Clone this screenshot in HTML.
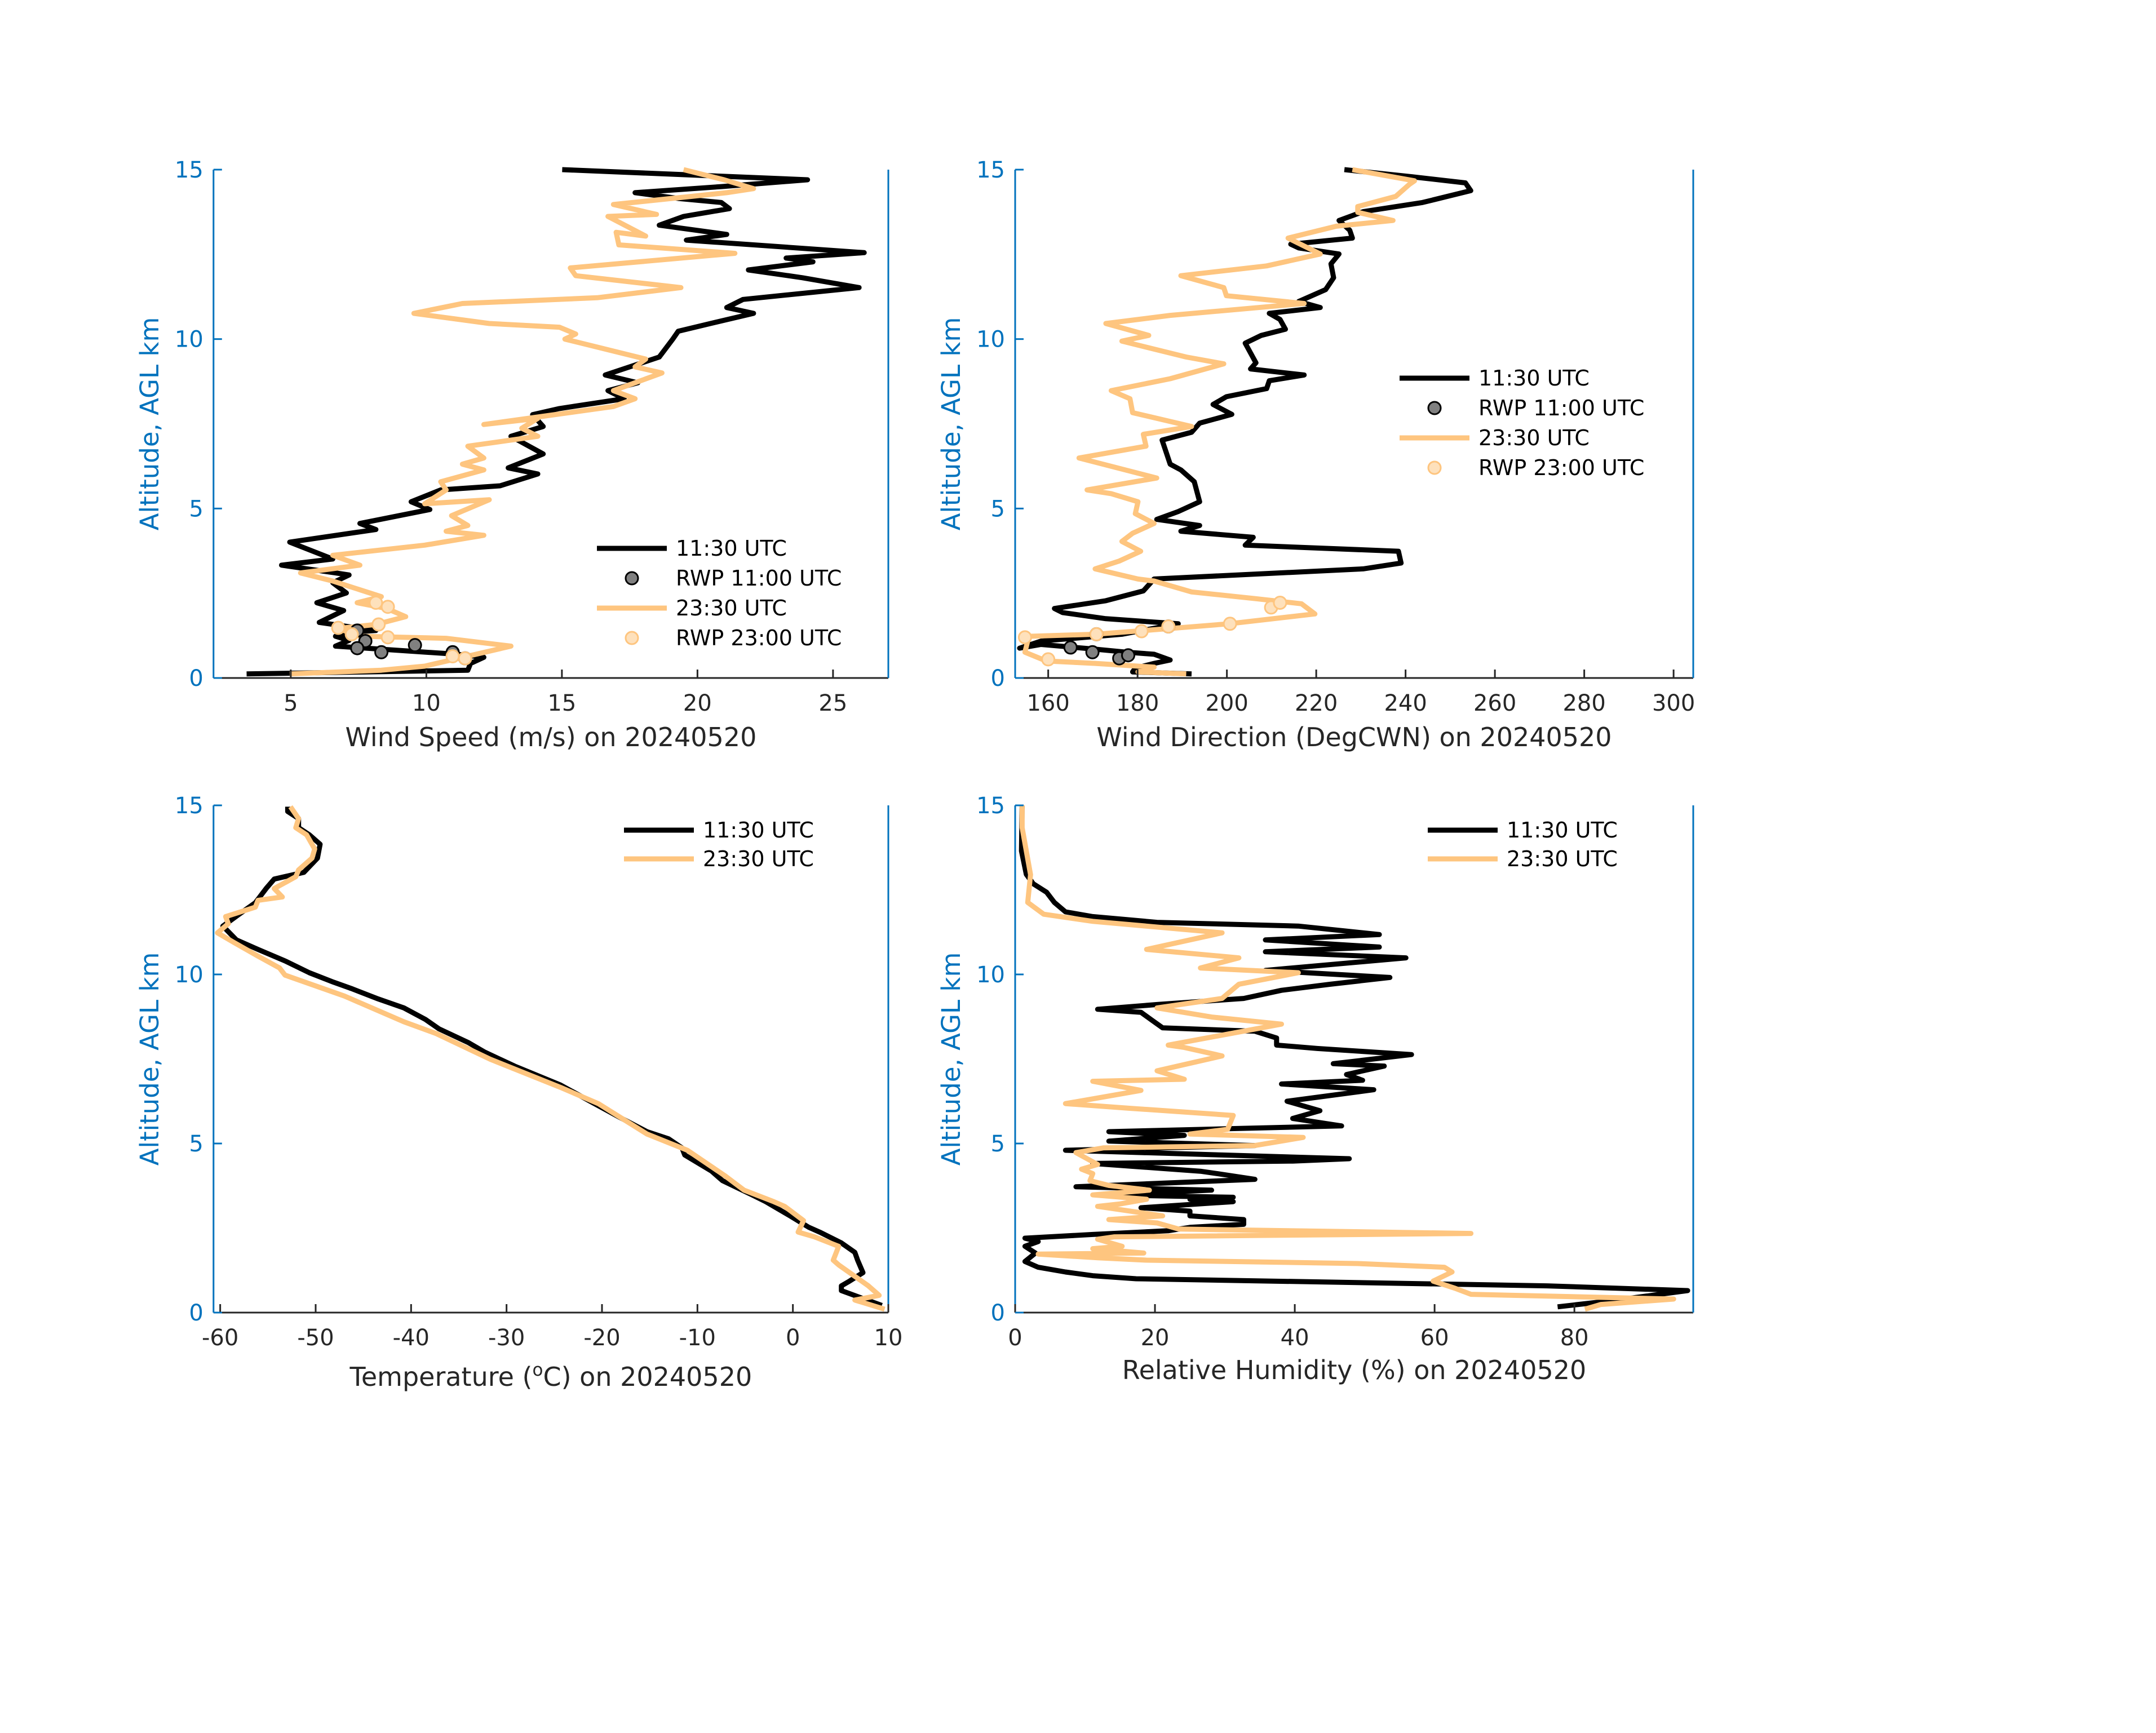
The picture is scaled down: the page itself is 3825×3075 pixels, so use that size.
<!DOCTYPE html>
<html><head><meta charset="utf-8"><style>
html,body{margin:0;padding:0;background:#fff;}
svg{display:block;font-family:"DejaVu Sans","Liberation Sans",sans-serif;}
</style></head><body>
<svg id="fig" xmlns="http://www.w3.org/2000/svg" width="3825" height="3075" viewBox="0 0 3825 3075">
<rect width="3825" height="3075" fill="#fff"/>
</svg>
<script>
// ---- data (value, altitude km) ----
const wsBlkVal=[3.37,11.53,11.63,12.12,11.13,6.65,7.15,6.65,7.55,8.14,6.05,6.95,5.96,7.05,6.55,7.15,6.65,4.66,6.55,4.96,8.14,7.55,10.13,9.44,10.53,12.72,14.11,13.02,14.31,13.12,14.31,13.92,14.91,17.30,16.70,17.80,16.60,18.59,19.09,19.29,20.48,22.07,21.08,21.68,25.96,23.87,21.88,24.26,23.27,26.15,19.59,21.08,18.59,19.49,21.18,20.88,19.29,17.70,20.88,24.06,15.01];
const wsBlkAlt=[0.12,0.23,0.43,0.61,0.70,0.94,1.11,1.23,1.37,1.40,1.64,1.99,2.22,2.51,2.81,3.04,3.10,3.33,3.51,4.01,4.38,4.56,4.97,5.20,5.55,5.67,6.02,6.20,6.61,7.13,7.42,7.77,7.95,8.24,8.48,8.71,8.94,9.47,10.00,10.23,10.46,10.76,10.93,11.17,11.52,11.81,12.04,12.28,12.39,12.55,12.92,13.09,13.36,13.62,13.85,14.03,14.15,14.32,14.50,14.70,15.00];
const wsOrgVal=[4.96,8.34,9.94,13.12,10.73,7.55,6.75,8.14,9.24,8.54,7.45,8.34,6.55,5.36,7.55,6.55,9.94,12.12,10.73,11.53,10.93,12.32,9.94,10.73,10.53,12.12,11.33,12.12,11.53,14.11,13.52,14.11,12.12,16.90,17.70,16.90,18.69,17.70,18.09,15.11,15.51,14.91,12.32,9.54,11.33,16.30,19.39,15.51,15.31,21.38,17.10,17.00,18.09,16.70,18.49,16.90,21.08,22.07,20.98,19.49];
const wsOrgAlt=[0.12,0.23,0.35,0.94,1.17,1.23,1.46,1.58,1.81,2.05,2.22,2.40,2.86,3.10,3.33,3.62,3.92,4.21,4.33,4.50,4.79,5.26,5.14,5.55,5.79,6.14,6.31,6.49,6.84,7.13,7.37,7.66,7.48,8.01,8.24,8.48,9.00,9.18,9.41,10.00,10.15,10.35,10.46,10.76,11.05,11.22,11.52,11.87,12.10,12.53,12.78,13.15,13.04,13.62,13.68,13.97,14.32,14.44,14.70,15.00];
const wsRwp11Val=[7.45,7.75,7.45,8.34,9.58,10.97,11.43];
const wsRwp11Alt=[1.40,1.09,0.88,0.76,0.97,0.76,0.58];
const wsRwp23Val=[6.75,7.25,8.14,8.58,8.24,8.58,11.43,10.97];
const wsRwp23Alt=[1.48,1.29,2.22,2.10,1.58,1.20,0.58,0.64];

const wdBlkVal=[192.1,178.9,179.5,183.7,187.3,183.7,177.7,170.5,158.4,153.6,158.4,176.5,189.1,172.9,163.2,161.4,172.9,181.3,183.7,230.5,239.0,238.4,204.1,205.9,189.7,193.9,184.3,189.1,193.9,192.7,189.7,187.3,185.5,192.1,193.9,201.1,196.9,199.9,208.9,209.5,217.3,205.3,206.5,204.1,207.7,213.1,211.9,209.5,220.9,216.1,222.1,223.9,223.3,225.1,216.1,214.3,228.1,227.5,225.1,230.5,243.8,254.6,253.4,241.4,226.3];
const wdBlkAlt=[0.12,0.18,0.29,0.43,0.53,0.70,0.76,0.85,0.99,0.88,1.09,1.29,1.60,1.75,1.93,2.05,2.28,2.57,2.92,3.22,3.39,3.74,3.92,4.15,4.33,4.50,4.68,4.91,5.20,5.79,6.14,6.31,7.02,7.25,7.52,7.78,8.07,8.30,8.54,8.77,8.94,9.12,9.30,9.88,10.11,10.29,10.58,10.76,10.93,11.11,11.46,11.81,12.22,12.51,12.69,12.80,12.98,13.21,13.50,13.76,14.03,14.38,14.61,14.79,15.00];
const wdOrgVal=[190.9,180.1,183.7,170.5,159.6,154.8,155.4,156.0,170.5,187.3,200.5,219.7,216.7,206.5,192.1,183.7,180.1,170.5,175.9,180.7,176.5,178.9,183.7,179.5,180.1,174.1,168.7,184.3,166.9,181.9,181.3,192.1,178.9,178.3,174.1,187.3,199.3,190.9,176.5,182.5,172.9,187.3,217.3,199.9,199.3,189.7,208.9,220.9,213.7,224.5,237.2,229.3,229.3,237.8,240.8,242.0,228.1];
const wdOrgAlt=[0.12,0.18,0.32,0.43,0.50,0.76,1.09,1.23,1.29,1.46,1.60,1.89,2.19,2.34,2.54,2.86,2.92,3.22,3.45,3.74,4.03,4.27,4.56,4.85,5.20,5.44,5.55,5.90,6.49,6.84,7.19,7.42,7.83,8.24,8.48,8.83,9.27,9.47,9.94,10.11,10.46,10.70,11.05,11.28,11.52,11.87,12.16,12.51,12.98,13.33,13.50,13.74,13.91,14.21,14.56,14.67,15.00];
const wdRwp11Val=[165.0,169.9,175.9,177.9,186.9,170.8];
const wdRwp11Alt=[0.90,0.76,0.58,0.67,1.52,1.29];
const wdRwp23Val=[154.8,170.8,180.9,186.9,200.7,209.9,211.9,160.0];
const wdRwp23Alt=[1.20,1.29,1.38,1.52,1.60,2.08,2.22,0.55];

const tBlkVal=[9.32,5.08,5.08,5.93,7.34,6.78,6.49,5.08,2.81,1.68,-0.30,-2.84,-4.26,-7.37,-8.50,-11.33,-11.62,-13.03,-15.29,-18.12,-21.24,-24.35,-29.16,-32.27,-33.97,-37.08,-38.50,-40.76,-43.59,-46.14,-48.12,-50.66,-53.21,-56.04,-58.30,-59.72,-58.02,-56.32,-55.19,-54.34,-51.23,-49.81,-49.53,-50.66,-51.79,-51.79,-52.93,-52.93];
const tBlkAlt=[0.21,0.65,0.79,0.93,1.18,1.55,1.78,2.06,2.38,2.52,2.86,3.28,3.48,3.90,4.18,4.66,4.87,5.14,5.35,5.77,6.25,6.73,7.29,7.70,7.98,8.39,8.67,9.01,9.29,9.57,9.77,10.05,10.40,10.74,11.02,11.43,11.78,12.12,12.54,12.82,13.02,13.44,13.85,14.13,14.34,14.61,14.82,14.96];
const tOrgVal=[9.61,6.49,9.04,7.91,4.80,4.23,4.80,2.25,0.55,1.12,-0.86,-2.00,-5.11,-7.09,-11.05,-15.29,-20.39,-24.35,-31.70,-37.36,-40.76,-46.98,-53.21,-53.78,-56.04,-58.59,-60.28,-59.15,-59.43,-56.32,-56.04,-53.49,-54.34,-52.08,-51.79,-50.38,-50.10,-50.95,-52.08,-51.79,-52.64];
const tOrgAlt=[0.10,0.37,0.51,0.79,1.41,1.55,1.96,2.24,2.38,2.72,3.14,3.28,3.62,4.04,4.80,5.28,6.18,6.66,7.49,8.25,8.60,9.36,9.98,10.19,10.54,10.95,11.23,11.50,11.71,11.99,12.19,12.29,12.54,12.89,13.09,13.44,13.71,14.13,14.34,14.61,14.96];

const rhBlkVal=[77.6,85.3,96.2,76.1,17.3,11.1,7.2,3.3,1.4,2.9,1.4,3.3,1.4,11.1,21.9,25.0,32.7,32.7,25.0,25.0,18.0,31.2,25.0,31.2,12.6,28.1,8.7,34.3,28.9,26.5,11.1,39.7,47.8,29.6,7.2,34.3,13.4,24.2,13.4,46.7,39.7,43.6,38.9,51.3,38.1,49.7,47.4,52.8,45.5,56.7,43.2,37.4,37.4,34.3,21.1,19.6,18.0,11.8,20.3,32.7,38.1,45.1,53.6,35.8,55.9,35.8,52.1,35.8,52.1,40.5,20.3,11.1,7.2,5.6,4.5,2.6,1.6,0.9,1.0];
const rhBlkAlt=[0.17,0.35,0.65,0.79,1.00,1.09,1.20,1.34,1.51,1.76,1.96,2.10,2.20,2.31,2.42,2.52,2.61,2.75,2.86,3.00,3.10,3.28,3.35,3.41,3.48,3.62,3.72,3.94,4.11,4.18,4.41,4.48,4.55,4.66,4.80,4.94,5.07,5.24,5.35,5.52,5.74,5.97,6.25,6.59,6.76,6.87,7.04,7.29,7.36,7.63,7.81,7.91,8.12,8.32,8.42,8.64,8.88,8.97,9.11,9.29,9.53,9.71,9.91,10.12,10.49,10.67,10.81,11.02,11.18,11.43,11.54,11.71,11.85,12.13,12.43,12.68,12.96,13.65,15.00];
const rhOrgVal=[81.5,83.8,94.2,65.2,62.9,59.8,62.5,61.4,49.0,18.8,11.8,3.3,18.4,11.1,15.3,11.8,14.2,65.2,23.4,20.3,13.4,21.1,11.8,14.9,18.8,11.1,19.2,13.4,10.7,11.1,9.5,11.8,8.7,12.6,34.3,41.2,25.0,30.4,31.2,16.5,7.2,18.0,11.1,24.2,20.3,29.6,24.2,21.9,38.1,28.1,20.3,29.6,32.0,40.5,26.5,32.0,18.8,29.6,11.1,4.1,1.8,2.2,1.0,1.0];
const rhOrgAlt=[0.10,0.24,0.40,0.54,0.72,0.93,1.20,1.34,1.45,1.55,1.62,1.73,1.76,1.89,1.96,2.17,2.24,2.34,2.47,2.65,2.75,2.86,3.14,3.21,3.35,3.48,3.62,3.76,3.90,4.11,4.24,4.38,4.73,4.87,4.94,5.18,5.28,5.42,5.83,6.04,6.18,6.57,6.84,6.90,7.15,7.59,7.84,7.91,8.53,8.74,9.01,9.29,9.71,10.05,10.19,10.49,10.74,11.23,11.57,11.78,12.13,12.95,14.34,15.00];

const wsTicks=[5,10,15,20,25];
const wdTicks=[160,180,200,220,240,260,280,300];
const tTicks=[-60,-50,-40,-30,-20,-10,0,10];
const rhTicks=[0,20,40,60,80];
const altTicks=[0,5,10,15];

const NS="http://www.w3.org/2000/svg";
const svg=document.getElementById('fig');
const BLK="#000", ORG="#FEC57F", BLUE="#0072BD", AX="#262626";
function el(tag,attrs,parent){const e=document.createElementNS(NS,tag);for(const k in attrs)e.setAttribute(k,attrs[k]);(parent||svg).appendChild(e);return e;}

function panel(id,box,xlim,xticks,xlabel,series,legend){
  const g=el('g',{});
  
  
  const sx=v=>box.x0+(v-xlim[0])/(xlim[1]-xlim[0])*(box.x1-box.x0);
  const sy=a=>box.y1-(a/15)*(box.y1-box.y0);
  const cp=el('clipPath',{id:'cp-'+id},g);
  el('rect',{x:box.x0,y:box.y0-6,width:box.x1-box.x0,height:box.y1-box.y0+12},cp);
  const sg=el('g',{'clip-path':'url(#cp-'+id+')'},g);
  series.forEach(s=>{
    if(s.type==='line'){
      const d=s.v.map((v,i)=>(i?'L':'M')+sx(v).toFixed(1)+' '+sy(s.a[i]).toFixed(1)).join(' ');
      const p=el('path',{d:d,fill:'none',stroke:s.c,'stroke-width':9,'stroke-linejoin':'round','stroke-linecap':'butt'},sg);
      
      
    } else {
      s.v.forEach((v,i)=>{
        const c=el('circle',{cx:sx(v),cy:sy(s.a[i]),r:11,fill:s.fill,stroke:s.c,'stroke-width':3},sg);
        
        
      });
    }
  });
  const xa=el('line',{x1:box.x0,y1:box.y1,x2:box.x1,y2:box.y1,stroke:AX,'stroke-width':3},g);
  
  
  const ya=el('line',{x1:box.x0,y1:box.y0,x2:box.x0,y2:box.y1,stroke:BLUE,'stroke-width':3},g);
  
  
  const ra=el('line',{x1:box.x1,y1:box.y0,x2:box.x1,y2:box.y1,stroke:BLUE,'stroke-width':3},g);
  
  
  xticks.forEach(t=>{
    const x=sx(t);
    el('line',{x1:x,y1:box.y1,x2:x,y2:box.y1-15,stroke:AX,'stroke-width':3},g);
    const tx=el('text',{x:x,y:box.y1+58,'font-size':40,fill:AX,'text-anchor':'middle'},g);
    tx.textContent=t;
    
    
  });
  altTicks.forEach(t=>{
    const y=sy(t);
    el('line',{x1:box.x0,y1:y,x2:box.x0+15,y2:y,stroke:BLUE,'stroke-width':3},g);
    const tx=el('text',{x:box.x0-18,y:y+14,'font-size':40,fill:BLUE,'text-anchor':'end'},g);
    tx.textContent=t;
    
    
  });
  const yl=el('text',{x:0,y:0,'font-size':45,fill:BLUE,'text-anchor':'middle',transform:'translate('+(box.x0-98)+','+((box.y0+box.y1)/2)+') rotate(-90)'},g);
  yl.textContent='Altitude, AGL km';
  
  
  const xl=el('text',{x:(box.x0+box.x1)/2,y:box.xlY,'font-size':46,fill:AX,'text-anchor':'middle'},g);
  xl.innerHTML=xlabel;
  
  
  const lg=el('g',{},g);
  
  
  legend.items.forEach((it,i)=>{
    const y=legend.y+i*legend.dy;
    if(it.type==='line') el('line',{x1:legend.x,y1:y,x2:legend.x+124,y2:y,stroke:it.c,'stroke-width':9},lg);
    else el('circle',{cx:legend.x+62,cy:y,r:11,fill:it.fill,stroke:it.c,'stroke-width':3},lg);
    const tx=el('text',{x:legend.x+140,y:y+13,'font-size':38,fill:'#000'},lg);
    tx.textContent=it.label;
    
    
  });
}

const TOP={y0:301,y1:1203}, BOT={y0:1429,y1:2329};
panel('ws',{x0:378.8,x1:1576,y0:TOP.y0,y1:TOP.y1,xlY:1324},[2.15,27.04],wsTicks,'Wind Speed (m/s) on 20240520',[
  {type:'line',v:wsBlkVal,a:wsBlkAlt,c:BLK,name:'wind-speed-1130-line'},
  {type:'line',v:wsOrgVal,a:wsOrgAlt,c:ORG,name:'wind-speed-2330-line'},
  {type:'pt',v:wsRwp11Val,a:wsRwp11Alt,c:BLK,fill:'#808080',name:'rwp-1100'},
  {type:'pt',v:wsRwp23Val,a:wsRwp23Alt,c:ORG,fill:'#FEE1BC',name:'rwp-2300'}],
  {x:1059,y:973,dy:53,items:[{type:'line',c:BLK,label:'11:30 UTC'},{type:'pt',c:BLK,fill:'#808080',label:'RWP 11:00 UTC'},{type:'line',c:ORG,label:'23:30 UTC'},{type:'pt',c:ORG,fill:'#FEE1BC',label:'RWP 23:00 UTC'}]});

panel('wd',{x0:1801,x1:3004,y0:TOP.y0,y1:TOP.y1,xlY:1324},[152.6,304.4],wdTicks,'Wind Direction (DegCWN) on 20240520',[
  {type:'line',v:wdBlkVal,a:wdBlkAlt,c:BLK,name:'wind-dir-1130-line'},
  {type:'line',v:wdOrgVal,a:wdOrgAlt,c:ORG,name:'wind-dir-2330-line'},
  {type:'pt',v:wdRwp11Val,a:wdRwp11Alt,c:BLK,fill:'#808080',name:'rwp-1100'},
  {type:'pt',v:wdRwp23Val,a:wdRwp23Alt,c:ORG,fill:'#FEE1BC',name:'rwp-2300'}],
  {x:2483,y:671,dy:53,items:[{type:'line',c:BLK,label:'11:30 UTC'},{type:'pt',c:BLK,fill:'#808080',label:'RWP 11:00 UTC'},{type:'line',c:ORG,label:'23:30 UTC'},{type:'pt',c:ORG,fill:'#FEE1BC',label:'RWP 23:00 UTC'}]});

panel('t',{x0:378.8,x1:1576,y0:BOT.y0,y1:BOT.y1,xlY:2459},[-60.7,10],tTicks,'Temperature (<tspan font-size="31" dy="-18">o</tspan><tspan dy="18">C) on 20240520</tspan>',[
  {type:'line',v:tBlkVal,a:tBlkAlt,c:BLK,name:'temp-1130-line'},
  {type:'line',v:tOrgVal,a:tOrgAlt,c:ORG,name:'temp-2330-line'}],
  {x:1107,y:1473,dy:51,items:[{type:'line',c:BLK,label:'11:30 UTC'},{type:'line',c:ORG,label:'23:30 UTC'}]});

panel('rh',{x0:1801,x1:3004,y0:BOT.y0,y1:BOT.y1,xlY:2447},[0,97],rhTicks,'Relative Humidity (%) on 20240520',[
  {type:'line',v:rhBlkVal,a:rhBlkAlt,c:BLK,name:'rh-1130-line'},
  {type:'line',v:rhOrgVal,a:rhOrgAlt,c:ORG,name:'rh-2330-line'}],
  {x:2533,y:1473,dy:51,items:[{type:'line',c:BLK,label:'11:30 UTC'},{type:'line',c:ORG,label:'23:30 UTC'}]});
</script>
</body></html>
